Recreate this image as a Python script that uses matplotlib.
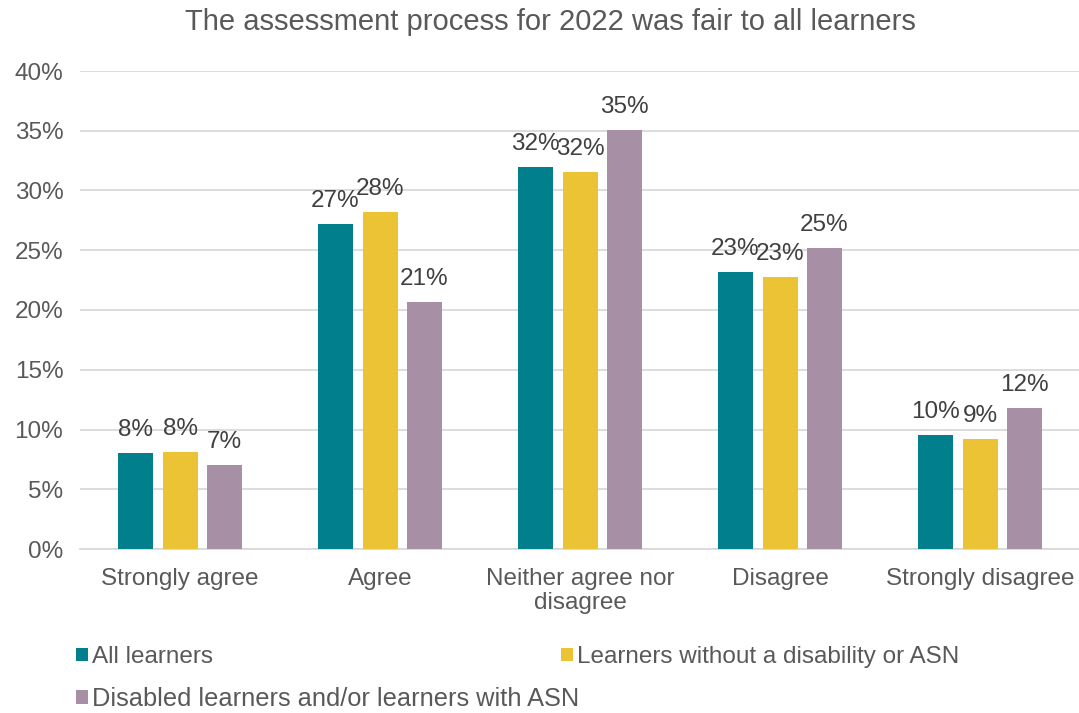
import matplotlib
matplotlib.use("Agg")
import matplotlib.pyplot as plt
import numpy as np

categories = ["Strongly agree", "Agree", "Neither agree nor\ndisagree", "Disagree", "Strongly disagree"]
series_names = ["All learners", "Learners without a disability or ASN",
                "Disabled learners and/or learners with ASN"]
all_learners = [8.0, 27.2, 32.0, 23.2, 9.55]
without_asn = [8.15, 28.2, 31.55, 22.8, 9.2]
with_asn = [7.0, 20.7, 35.1, 25.2, 11.8]
values = [all_learners, without_asn, with_asn]
colors = ["#017F8D", "#EBC334", "#A78FA5"]

plt.rcParams['font.family'] = ['Liberation Sans', 'DejaVu Sans']

fig = plt.figure(figsize=(10.79, 7.13), dpi=100)
ax = fig.add_axes([80/1079, 1-549/713, 1000/1079, (549-71)/713])

x = np.arange(len(categories))
width = 0.175
step = 0.2225
containers = []
for i, (vals, c) in enumerate(zip(values, colors)):
    bars = ax.bar(x + (i-1)*step, vals, width, color=c, zorder=3)
    containers.append(bars)
    for xi, v in zip(x + (i-1)*step, vals):
        ax.text(xi, v + 1.0, f"{v:.0f}%", ha='center', va='bottom',
                fontsize=17.5, color='#404040')

ax.set_xlim(-0.5, 4.5)
ax.set_ylim(0, 40)
ax.set_yticks(np.arange(0, 41, 5))
ax.set_yticklabels([f"{t}%" for t in range(0, 41, 5)])
ax.yaxis.grid(True, color='#D9D9D9', linewidth=1.3, zorder=0)
ax.set_xticks(x)
ax.set_xticklabels(categories, linespacing=1.1)
ax.tick_params(axis='both', length=0, labelsize=17.5, labelcolor='#595959')
ax.tick_params(axis='x', pad=14)
ax.tick_params(axis='y', pad=12)
for s in ['top', 'right', 'left']:
    ax.spines[s].set_visible(False)
ax.spines['bottom'].set_color('#D9D9D9')
ax.spines['bottom'].set_linewidth(1.3)

fig.text(550/1079, 1-22/713, "The assessment process for 2022 was fair to all learners",
         ha='center', va='center', fontsize=21, color='#595959')

legend_pos = [(76, 657), (561, 657), (76, 699)]
legend_sizes = [17.5, 17.5, 18.3]
for bars, name, (lx, ly), fs in zip(containers, series_names, legend_pos, legend_sizes):
    fig.legend(handles=[bars], labels=[name], loc='center left',
               bbox_to_anchor=(lx/1079, 1-ly/713), frameon=False,
               handlelength=0.49*17.5/fs, handleheight=0.49*17.5/fs,
               handletextpad=0.17*17.5/fs,
               fontsize=fs, labelcolor='#595959', borderpad=0, borderaxespad=0)

fig.savefig("out.png", dpi=100)
